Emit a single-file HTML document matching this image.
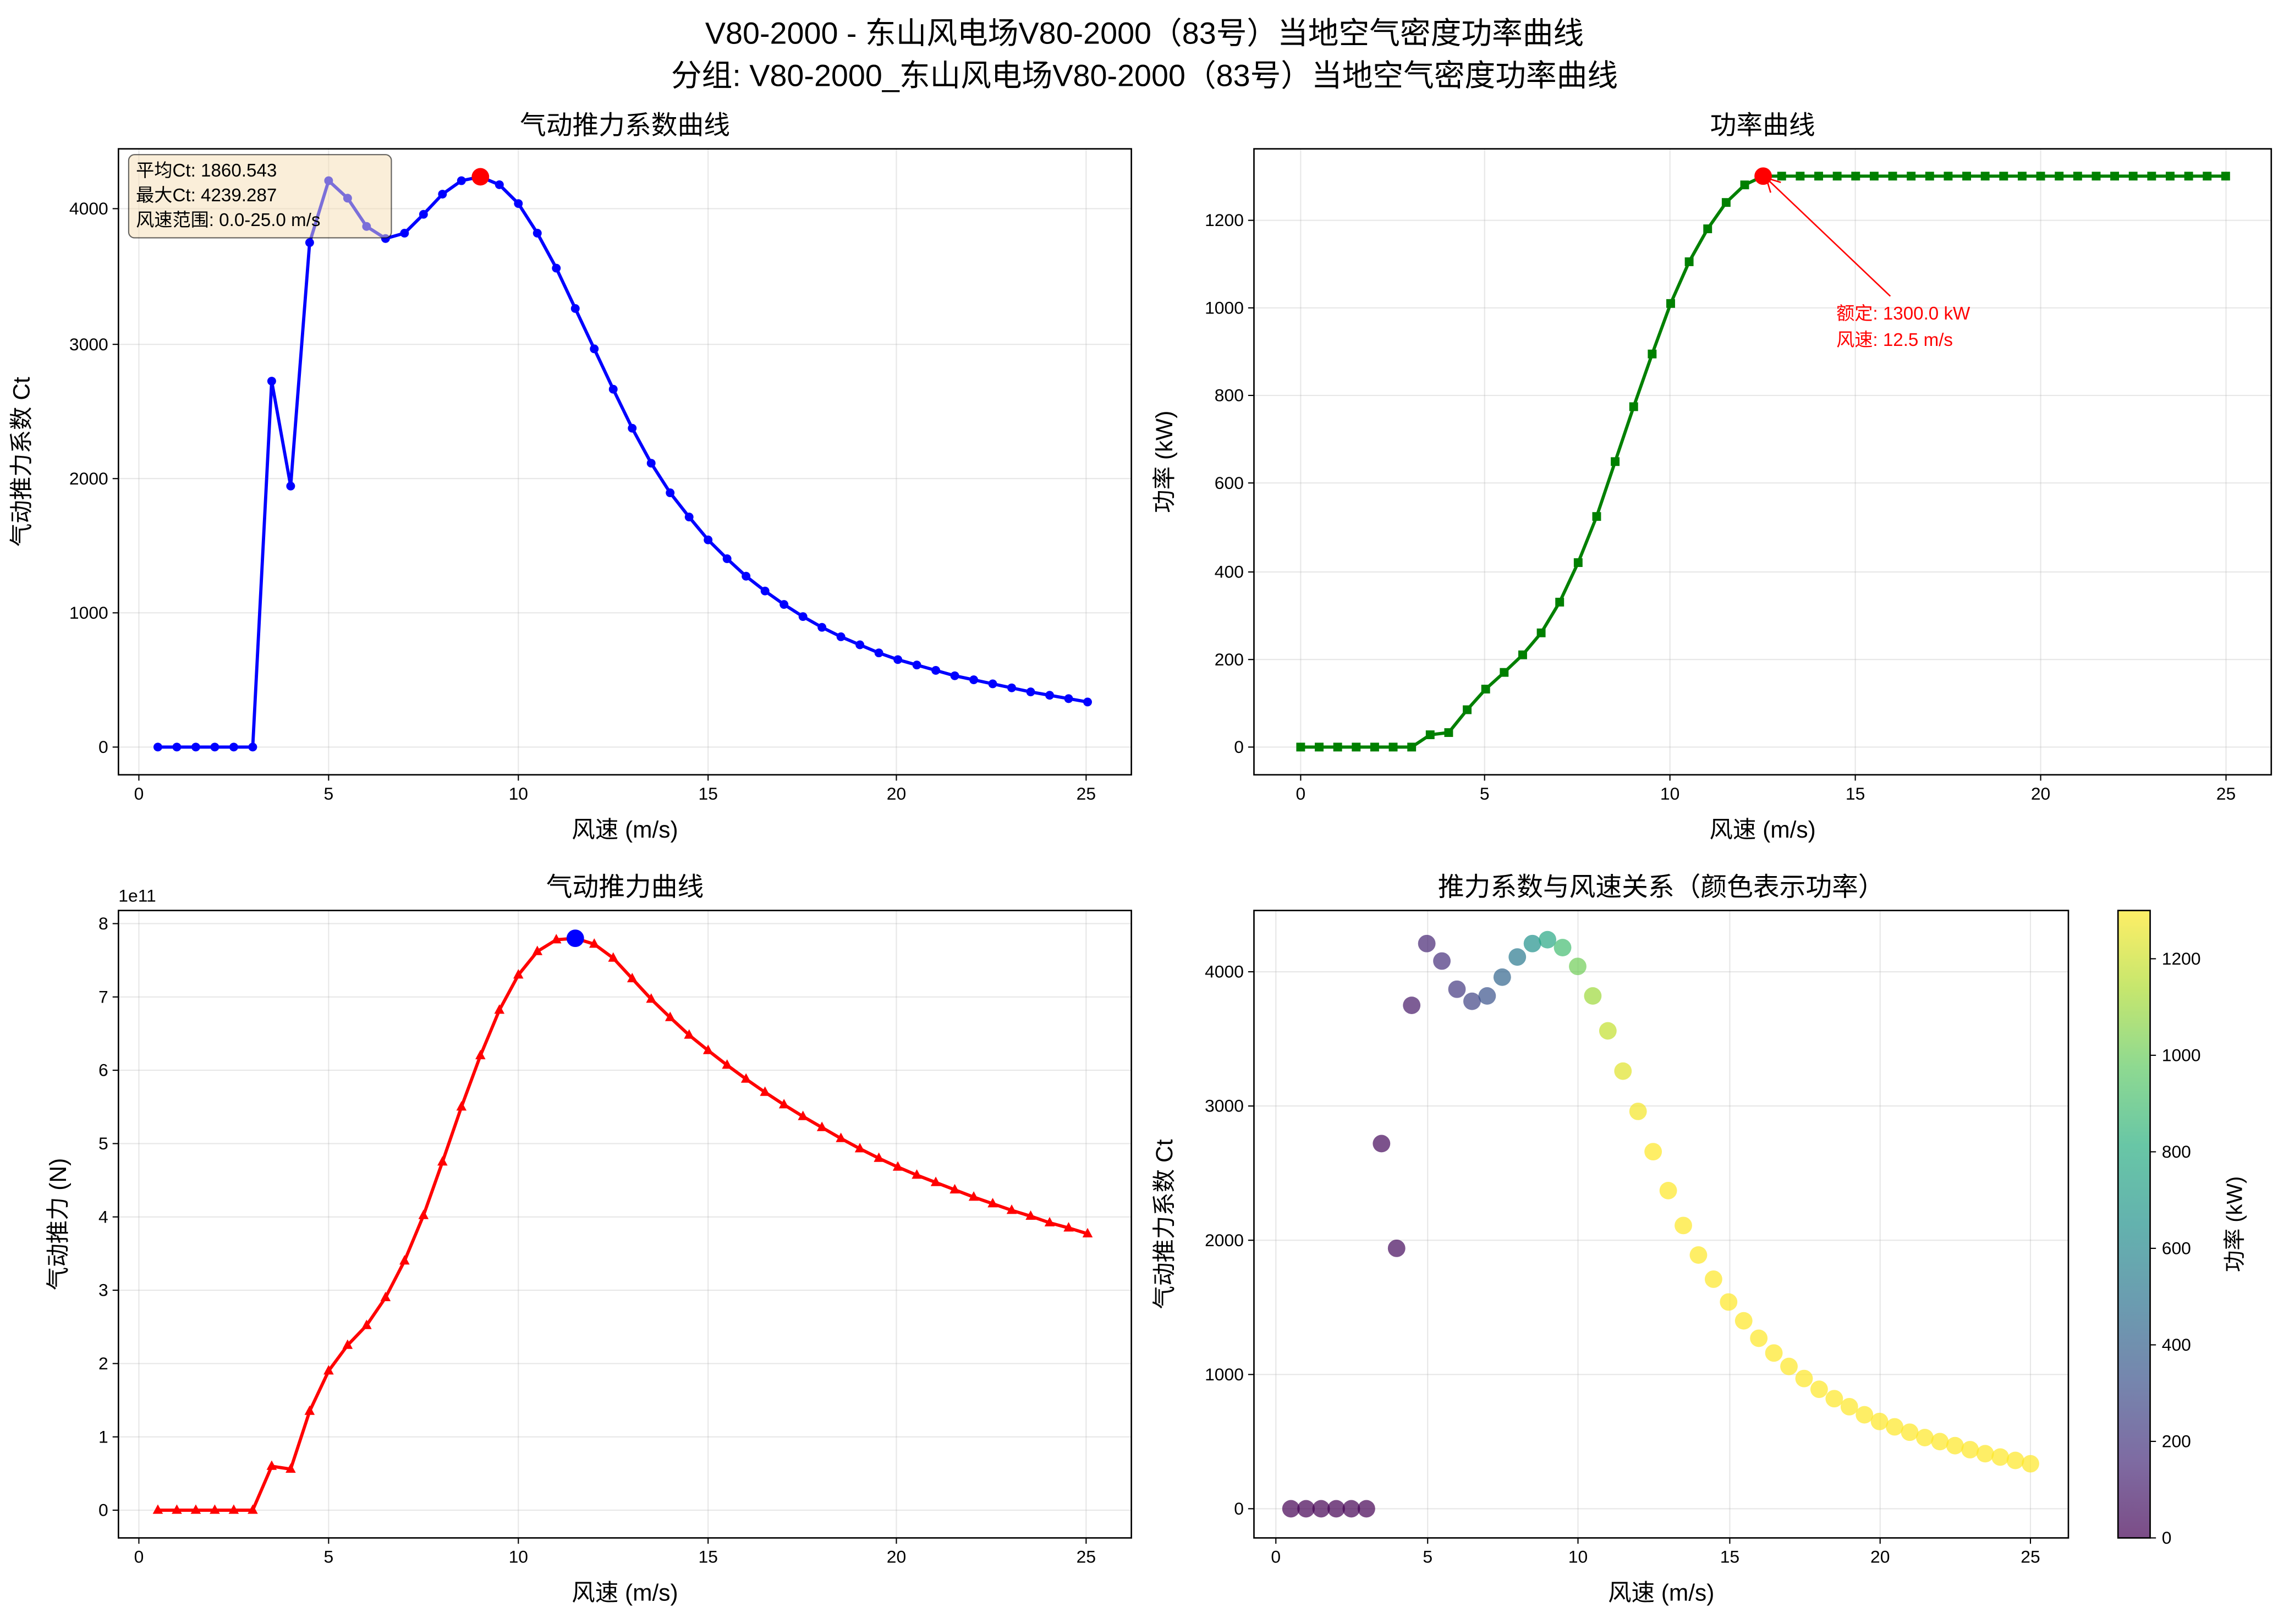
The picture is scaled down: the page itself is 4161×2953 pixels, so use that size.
<!DOCTYPE html>
<html><head><meta charset="utf-8">
<style>
html,body{margin:0;padding:0;background:#fff;}
svg{display:block;}
text{font-family:"Liberation Sans","Noto Sans CJK SC",sans-serif;fill:#000;}
text.red{fill:#ff0000;}
</style></head>
<body>
<svg id="s" width="4161" height="2953" viewBox="0 0 1568 1113" xmlns="http://www.w3.org/2000/svg">
<defs>
<linearGradient id="vir" x1="0" y1="1" x2="0" y2="0">
<stop offset="0" stop-color="#440154"/><stop offset="0.125" stop-color="#472d7b"/>
<stop offset="0.25" stop-color="#3b528b"/><stop offset="0.375" stop-color="#2c728e"/>
<stop offset="0.5" stop-color="#21918c"/><stop offset="0.625" stop-color="#28ae80"/>
<stop offset="0.75" stop-color="#5ec962"/><stop offset="0.875" stop-color="#addc30"/>
<stop offset="1" stop-color="#fde725"/>
</linearGradient>
</defs>
</svg>
<script>
const S=document.getElementById('s');const NS='http://www.w3.org/2000/svg';
function el(t,a,txt){const e=document.createElementNS(NS,t);for(const k in a)e.setAttribute(k,a[k]);if(txt!==undefined)e.textContent=txt;S.appendChild(e);return e;}
function T(x,y,s,txt,anchor,extra){const a={x:x,y:y,'font-size':s,'text-anchor':anchor||'middle'};Object.assign(a,extra||{});return el('text',a,txt);}
const ws=[];for(let i=1;i<=50;i++)ws.push(i*0.5);
const ct=[0,0,0,0,0,0,2720,1940,3750,4210,4080,3870,3780,3820,3960,4110,4210,4239,4180,4040,3820,3560,3260,2960,2660,2370,2110,1890,1710,1540,1400,1270,1160,1060,970,890,820,760,700,650,610,570,530,500,470,440,410,385,360,335];
const pw=[0,0,0,0,0,0,28,33,85,132,170,210,260,330,420,525,650,775,895,1010,1105,1180,1240,1280,1300];
while(pw.length<50)pw.push(1300);
const th=[0,0,0,0,0,0,0.6,0.56,1.35,1.9,2.25,2.52,2.9,3.4,4.02,4.75,5.5,6.2,6.82,7.3,7.62,7.78,7.8,7.72,7.53,7.25,6.97,6.72,6.48,6.27,6.07,5.88,5.7,5.53,5.37,5.22,5.07,4.93,4.8,4.68,4.57,4.47,4.37,4.27,4.18,4.09,4.01,3.92,3.85,3.77];
function axes(x0,y0,x1,y1,xt,yt,title,xl,yl,ylx){
 xt.forEach(t=>{el('line',{x1:t[0],y1:y0,x2:t[0],y2:y1,stroke:'#b0b0b0','stroke-opacity':0.3,'stroke-width':0.8});
  el('line',{x1:t[0],y1:y1,x2:t[0],y2:y1+4,stroke:'#000','stroke-width':0.8});T(t[0],y1+17,12,t[1]);});
 yt.forEach(t=>{el('line',{x1:x0,y1:t[0],x2:x1,y2:t[0],stroke:'#b0b0b0','stroke-opacity':0.3,'stroke-width':0.8});
  el('line',{x1:x0-4,y1:t[0],x2:x0,y2:t[0],stroke:'#000','stroke-width':0.8});T(x0-7,t[0]+4,12,t[1],'end');});
 T((x0+x1)/2,y0-10,18,title);T((x0+x1)/2,y1+43,16,xl);
 el('text',{x:ylx,y:(y0+y1)/2,'font-size':16,'text-anchor':'middle',transform:`rotate(-90 ${ylx} ${(y0+y1)/2})`},yl);
}
function frame(x0,y0,x1,y1){el('rect',{x:x0,y:y0,width:x1-x0,height:y1-y0,fill:'none',stroke:'#000','stroke-width':1});}
T(784,30,21,'V80-2000 - 东山风电场V80-2000（83号）当地空气密度功率曲线');
T(784,59,21,'分组: V80-2000_东山风电场V80-2000（83号）当地空气密度功率曲线');
// Panel 1
const X1=w=>95+26*w, Y1=v=>512-v*0.0922;
axes(81,102,775,531,[[95,'0'],[225,'5'],[355,'10'],[485,'15'],[614,'20'],[744,'25']],[[512,'0'],[420,'1000'],[328,'2000'],[236,'3000'],[143,'4000']],'气动推力系数曲线','风速 (m/s)','气动推力系数 Ct',20);
el('polyline',{points:ws.map((w,i)=>X1(w)+','+Y1(ct[i])).join(' '),fill:'none',stroke:'#0000ff','stroke-width':2.2});
ws.forEach((w,i)=>el('circle',{cx:X1(w),cy:Y1(ct[i]),r:3,fill:'#0000ff'}));
el('circle',{cx:X1(9),cy:Y1(4239),r:6,fill:'#ff0000'});
el('rect',{x:88,y:106,width:180,height:57,rx:4,fill:'#f5deb3','fill-opacity':0.5,stroke:'#000','stroke-opacity':0.6,'stroke-width':0.8});
T(93,121,12.5,'平均Ct: 1860.543','start');T(93,138,12.5,'最大Ct: 4239.287','start');T(93,155,12.5,'风速范围: 0.0-25.0 m/s','start');
frame(81,102,775,531);
// Panel 2
const X2=w=>891+25.35*w, Y2=v=>512-v*0.301;
axes(859,102,1556,531,[[891,'0'],[1017,'5'],[1144,'10'],[1271,'15'],[1398,'20'],[1525,'25']],[[512,'0'],[452,'200'],[392,'400'],[331,'600'],[271,'800'],[211,'1000'],[151,'1200']],'功率曲线','风速 (m/s)','功率 (kW)',803);
const pws=[0].concat(ws), pwv=[0].concat(pw);
el('polyline',{points:pws.map((w,i)=>X2(w)+','+Y2(pwv[i])).join(' '),fill:'none',stroke:'#008000','stroke-width':2.2});
pws.forEach((w,i)=>el('rect',{x:X2(w)-3,y:Y2(pwv[i])-3,width:6,height:6,fill:'#008000'}));
el('circle',{cx:X2(12.5),cy:Y2(1300),r:6,fill:'#ff0000'});
el('line',{x1:1295,y1:203,x2:1212,y2:124,stroke:'#ff0000','stroke-width':1});
el('polyline',{points:'1213,132 1210,122 1220,125',fill:'none',stroke:'#ff0000','stroke-width':1});
T(1258,219,12.5,'额定: 1300.0 kW','start',{class:'red'});T(1258,237,12.5,'风速: 12.5 m/s','start',{class:'red'});
frame(859,102,1556,531);
// Panel 3
const Y3=v=>1035-v*50.25;
axes(81,624,775,1054,[[95,'0'],[225,'5'],[355,'10'],[485,'15'],[614,'20'],[744,'25']],[0,1,2,3,4,5,6,7,8].map(v=>[Y3(v),''+v]),'气动推力曲线','风速 (m/s)','气动推力 (N)',45);
T(81,618,12,'1e11','start');
el('polyline',{points:ws.map((w,i)=>X1(w)+','+Y3(th[i])).join(' '),fill:'none',stroke:'#ff0000','stroke-width':2.2});
ws.forEach((w,i)=>{const x=X1(w),y=Y3(th[i]);el('polygon',{points:`${x},${y-4} ${x-3.5},${y+2.5} ${x+3.5},${y+2.5}`,fill:'#ff0000'});});
el('circle',{cx:X1(11.5),cy:Y3(7.8),r:6,fill:'#0000ff'});
frame(81,624,775,1054);
// Panel 4
const X4=w=>874+20.68*w, Y4=v=>1034-v*0.092;
axes(859,624,1417,1054,[[874,'0'],[978,'5'],[1081,'10'],[1185,'15'],[1288,'20'],[1391,'25']],[[1034,'0'],[942,'1000'],[850,'2000'],[758,'3000'],[666,'4000']],'推力系数与风速关系（颜色表示功率）','风速 (m/s)','气动推力系数 Ct',803);
const vs=['#440154','#472d7b','#3b528b','#2c728e','#21918c','#28ae80','#5ec962','#addc30','#fde725'];
function hx(h){return [1,3,5].map(i=>parseInt(h.substr(i,2),16));}
function vir(t){t=Math.max(0,Math.min(1,t))*8;const i=Math.min(7,Math.floor(t)),f=t-i;const a=hx(vs[i]),b=hx(vs[i+1]);return 'rgb('+a.map((c,k)=>Math.round(c+(b[k]-c)*f)).join(',')+')';}
ws.forEach((w,i)=>el('circle',{cx:X4(w),cy:Y4(ct[i]),r:6,fill:vir(pw[i]/1300),'fill-opacity':0.7}));
frame(859,624,1417,1054);
// colorbar
el('rect',{x:1451,y:624,width:22,height:430,fill:'url(#vir)','fill-opacity':0.7,stroke:'#000','stroke-width':1});
[0,200,400,600,800,1000,1200].forEach(v=>{const y=1054-v*(430/1300);el('line',{x1:1473,y1:y,x2:1477,y2:y,stroke:'#000','stroke-width':0.8});T(1481,y+4,12,''+v,'start');});
el('text',{x:1536,y:839,'font-size':15,'text-anchor':'middle',transform:'rotate(-90 1536 839)'},'功率 (kW)');
</script>
</body></html>
